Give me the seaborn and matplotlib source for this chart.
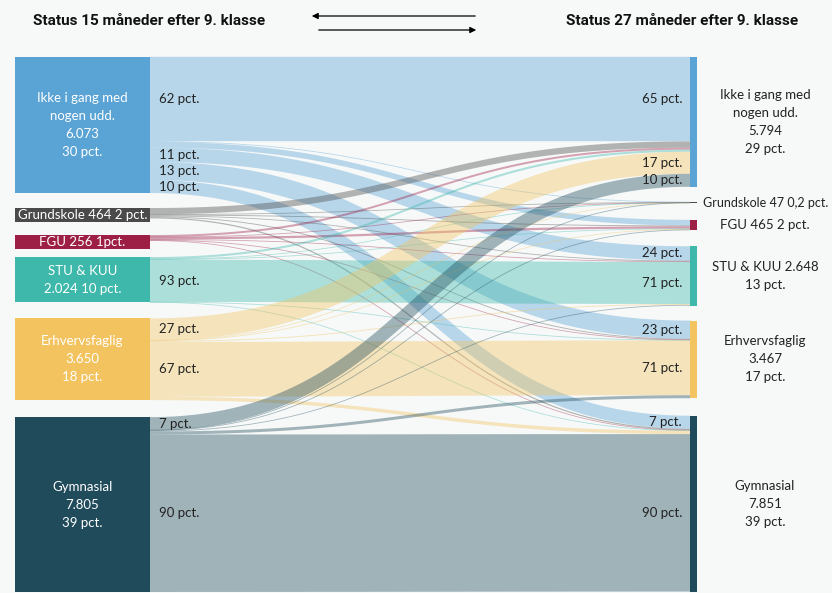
import numpy as np
import matplotlib
matplotlib.use('Agg')
import matplotlib.pyplot as plt
from matplotlib.patches import Rectangle
import seaborn as sns

# Noder (samme rækkefølge på begge sider)
noder = ['Ikke i gang med nogen udd.', 'Grundskole', 'FGU', 'STU & KUU', 'Erhvervsfaglig', 'Gymnasial']
farver = ['#5AA3D5', '#4A4A4A', '#9E1F45', '#3DB8AA', '#F2C35F', '#1F4B5B']

# Strømme: fra status 15 mdr. (række) til status 27 mdr. (kolonne), antal elever
fra_ikke = [3766, 25, 250, 640, 810, 582]
fra_grundskole = [280, 15, 40, 36, 40, 53]
fra_fgu = [90, 2, 100, 20, 24, 20]
fra_stu = [94, 3, 25, 1880, 12, 10]
fra_erhverv = [985, 1, 20, 42, 2447, 155]
fra_gym = [579, 1, 30, 30, 134, 7031]

venstre_tekst = ['Ikke i gang med\nnogen udd.\n6.073\n30 pct.', 'Grundskole 464 2 pct.', 'FGU 256 1pct.',
                 'STU & KUU\n2.024 10 pct.', 'Erhvervsfaglig\n3.650\n18 pct.', 'Gymnasial\n7.805\n39 pct.']
hoejre_tekst = ['Ikke i gang med\nnogen udd.\n5.794\n29 pct.', 'Grundskole 47 0,2 pct.', 'FGU 465 2 pct.',
                'STU & KUU 2.648\n13 pct.', 'Erhvervsfaglig\n3.467\n17 pct.', 'Gymnasial\n7.851\n39 pct.']
titel_venstre = 'Status 15 måneder efter 9. klasse'
titel_hoejre = 'Status 27 måneder efter 9. klasse'

# Layout (pixel-enheder)
W, H, DPI = 832, 593, 100
SKALA = 0.0224          # px pr. elev
TOP = 57
X_BOKS0, X_BOKS1 = 15, 150
X_BAR0, X_BAR1 = 690, 697
gap_venstre = [15, 13, 8, 16, 17]
gap_hoejre = [15, 17, 16, 15, 17.5]
MIN_BOKS = 14
ALPHA = 0.4
BAGGRUND = '#F7F9F9'

sns.set_theme(style='white', rc={'figure.facecolor': BAGGRUND, 'axes.facecolor': BAGGRUND})
plt.rcParams['font.family'] = ['Lato', 'DejaVu Sans']

matrix = np.array([fra_ikke, fra_grundskole, fra_fgu, fra_stu, fra_erhverv, fra_gym], dtype=float)
pal = sns.color_palette(farver)
ud = matrix.sum(axis=1)
ind = matrix.sum(axis=0)


def placer(totaler, gaps, min_h):
    tops, hs = [], []
    y = TOP
    for k, t in enumerate(totaler):
        h = t * SKALA
        tops.append(y)
        hs.append(h)
        y += max(h, min_h) + (gaps[k] if k < len(gaps) else 0)
    return np.array(tops), np.array(hs)


top_v, h_v = placer(ud, gap_venstre, MIN_BOKS)
top_h, h_h = placer(ind, gap_hoejre, 0)

fig = plt.figure(figsize=(W / DPI, H / DPI), dpi=DPI)
ax = fig.add_axes([0, 0, 1, 1])
ax.set_xlim(0, W)
ax.set_ylim(H, 0)
ax.axis('off')

# Strømme
t = np.linspace(0, 1, 120)
xm = (X_BOKS1 + X_BAR0) / 2
bx = (1 - t) ** 3 * X_BOKS1 + 3 * (1 - t) ** 2 * t * xm + 3 * (1 - t) * t ** 2 * xm + t ** 3 * X_BAR0
cur_v = top_v.copy()
cur_h = top_h.copy()
etiketter = []
for i in range(len(noder)):
    for j in range(len(noder)):
        v = matrix[i, j]
        if v <= 0:
            continue
        w = v * SKALA
        y0 = cur_v[i] + w / 2
        y1 = cur_h[j] + w / 2
        cur_v[i] += w
        cur_h[j] += w
        by = (1 - t) ** 3 * y0 + 3 * (1 - t) ** 2 * t * y0 + 3 * (1 - t) * t ** 2 * y1 + t ** 3 * y1
        ax.plot(bx, by, color=pal[i], alpha=ALPHA, lw=max(w, 0.8) * 72 / DPI,
                solid_capstyle='butt', zorder=2)
        pv = 100 * v / ud[i]
        ph = 100 * v / ind[j]
        if ud[i] > 1000 and pv >= 7:
            etiketter.append((X_BOKS1 + 9, y0, f'{pv:.0f} pct.', 'left'))
        if ind[j] > 1000 and ph >= 7:
            etiketter.append((X_BAR0 - 8, y1, f'{ph:.0f} pct.', 'right'))

for x, y, s, ha in etiketter:
    ax.text(x, y, s, ha=ha, va='center', fontsize=9.5, color='#222222', zorder=5)

# Venstre bokse
for i, navn in enumerate(noder):
    hb = max(h_v[i], MIN_BOKS)
    ax.add_patch(Rectangle((X_BOKS0, top_v[i]), X_BOKS1 - X_BOKS0, hb, color=pal[i], lw=0, zorder=3))
    ax.text((X_BOKS0 + X_BOKS1) / 2, top_v[i] + hb / 2, venstre_tekst[i], ha='center', va='center',
            color='white', fontsize=9.5, linespacing=1.6, zorder=4)

# Højre søjler
for j, navn in enumerate(noder):
    hb = max(h_h[j], 1.5)
    ax.add_patch(Rectangle((X_BAR0, top_h[j]), X_BAR1 - X_BAR0, hb, color=pal[j], lw=0, zorder=3))
    if h_h[j] < 3:
        ax.text(X_BAR1 + 6, top_h[j] + hb / 2, hoejre_tekst[j], ha='left', va='center',
                color='#222222', fontsize=9, zorder=4)
    else:
        ax.text(765, top_h[j] + hb / 2, hoejre_tekst[j], ha='center', va='center',
                color='#222222', fontsize=9.5, linespacing=1.6, zorder=4)

# Overskrifter og pile
titel_font = ['Roboto', 'DejaVu Sans']
ax.text(149, 21, titel_venstre, ha='center', va='center', fontsize=11, fontweight='bold',
        family=titel_font, color='#111111')
ax.text(682, 21, titel_hoejre, ha='center', va='center', fontsize=11, fontweight='bold',
        family=titel_font, color='#111111')
ax.annotate('', xy=(309, 16), xytext=(478, 16),
            arrowprops=dict(arrowstyle='-|>', color='black', lw=0.9, mutation_scale=9))
ax.annotate('', xy=(479, 30), xytext=(316, 30),
            arrowprops=dict(arrowstyle='-|>', color='black', lw=0.9, mutation_scale=9))

fig.savefig('out.png', dpi=DPI, facecolor=BAGGRUND)
